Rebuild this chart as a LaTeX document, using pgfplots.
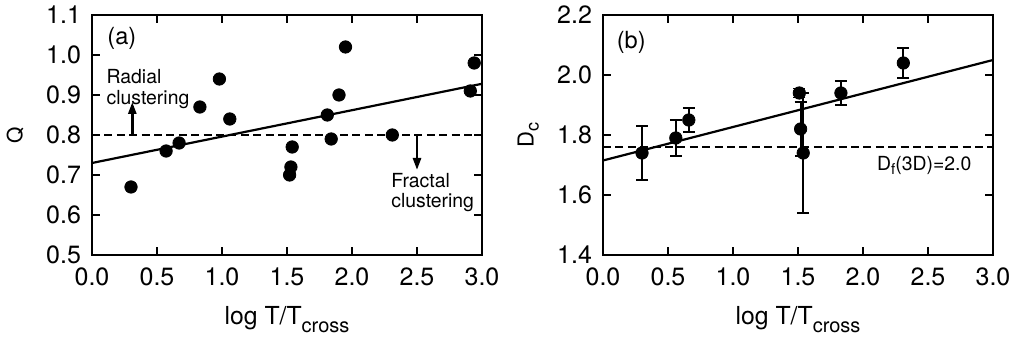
\documentclass[border=0pt]{standalone}
\usepackage{pgfplots}
\pgfplotsset{compat=1.18}
\usepackage{fontspec}
\setmainfont{TeX Gyre Heros}
\usetikzlibrary{arrows.meta}
\newcommand{\xlab}{log T/T\raisebox{-4pt}{\fontsize{10}{12}\selectfont cross}}
\begin{document}
\begin{tikzpicture}
\pgfplotsset{
  myax/.style={
    scale only axis, width=195pt, height=120pt,
    xmin=0, xmax=3, xtick={0,0.5,...,3.0},
    /pgf/number format/assume math mode=true,
    /pgf/number format/fixed, /pgf/number format/fixed zerofill, /pgf/number format/precision=1,
    tick align=inside, major tick length=4pt, tick style={line width=0.7pt, black},
    axis line style={line width=0.9pt},
    ticklabel style={font=\fontsize{12.5}{14}\selectfont},
    xticklabel style={yshift=-3pt},
    yticklabel style={xshift=-2pt},
    clip=false,
  }
}
\pgfplotstableread{
x y
0.30 0.67
0.57 0.76
0.67 0.78
0.83 0.87
0.98 0.94
1.06 0.84
1.52 0.70
1.53 0.72
1.54 0.77
1.81 0.85
1.84 0.79
1.90 0.90
1.95 1.02
2.31 0.80
2.91 0.91
2.94 0.98
}\qdata
\pgfplotstableread{
x y e
0.30 1.74 0.09
0.56 1.79 0.06
0.66 1.85 0.04
1.51 1.94 0.015
1.52 1.82 0.09
1.54 1.74 0.20
1.83 1.94 0.04
2.31 2.04 0.05
}\ddata
\useasboundingbox (-46pt,-42.5pt) rectangle (461.5pt,127.5pt);
\begin{axis}[myax, at={(0,0)}, anchor=south west,
  ymin=0.5, ymax=1.1, ytick={0.5,0.6,...,1.1},
  xlabel={\xlab},
  xlabel style={at={(axis description cs:0.5,-0.29)}, anchor=base, font=\fontsize{12.4}{14}\selectfont},
  ylabel={Q},
  ylabel style={at={(axis description cs:-0.197,0.5)}, anchor=center, font=\fontsize{10.5}{12}\selectfont},
]
\addplot[only marks, mark=*, mark size=3.1pt, black] table[x=x,y=y]{\qdata};
\addplot[line width=1.1pt, black] coordinates {(0,0.73) (3,0.928)};
\addplot[line width=0.9pt, black, dash pattern=on 4pt off 2.2pt] coordinates {(0,0.8) (3,0.8)};
\draw[line width=1.3pt, -{Triangle[length=6pt,width=4pt]}] (axis cs:0.31,0.80) -- (axis cs:0.31,0.8825);
\draw[line width=1.3pt, -{Triangle[length=6pt,width=4pt]}] (axis cs:2.50,0.80) -- (axis cs:2.50,0.7125);
\node[anchor=north west, align=left, inner sep=0pt, font=\fontsize{9.7}{10.3}\selectfont] at (axis cs:0.11,0.964) {Radial\\clustering};
\node[anchor=north west, align=left, inner sep=0pt, font=\fontsize{9.7}{10.3}\selectfont] at (axis cs:2.30,0.706) {Fractal\\clustering};
\node[anchor=base west, inner sep=0pt, font=\fontsize{11.8}{13}\selectfont] at (axis cs:0.116,1.025) {(a)};
\end{axis}
\begin{axis}[myax, at={(255.5pt,0)}, anchor=south west,
  ymin=1.4, ymax=2.2, ytick={1.4,1.6,...,2.2},
  xlabel={\xlab},
  xlabel style={at={(axis description cs:0.5,-0.29)}, anchor=base, font=\fontsize{12.4}{14}\selectfont},
  ylabel={D\raisebox{-2.5pt}{\fontsize{9}{10}\selectfont c}},
  ylabel style={at={(axis description cs:-0.192,0.5)}, anchor=center, font=\fontsize{11}{12}\selectfont},
]
\addplot[only marks, mark=*, mark size=3.1pt, black,
  error bars/.cd, y dir=both, y explicit,
  error bar style={line width=0.9pt, black},
  error mark options={rotate=90, mark size=3pt, line width=0.9pt, black}]
  table[x=x,y=y,y error=e]{\ddata};
\addplot[line width=1.1pt, black] coordinates {(0,1.715) (3,2.05)};
\addplot[line width=0.9pt, black, dash pattern=on 4pt off 2.2pt] coordinates {(0,1.761) (3,1.761)};
\node[anchor=base west, inner sep=0pt, font=\fontsize{9.7}{10}\selectfont] at (axis cs:2.106,1.681) {D\raisebox{-2pt}{\fontsize{7.5}{8}\selectfont f}(3D)=2.0};
\node[anchor=base west, inner sep=0pt, font=\fontsize{11.8}{13}\selectfont] at (axis cs:0.103,2.089) {(b)};
\end{axis}
\end{tikzpicture}
\end{document}
